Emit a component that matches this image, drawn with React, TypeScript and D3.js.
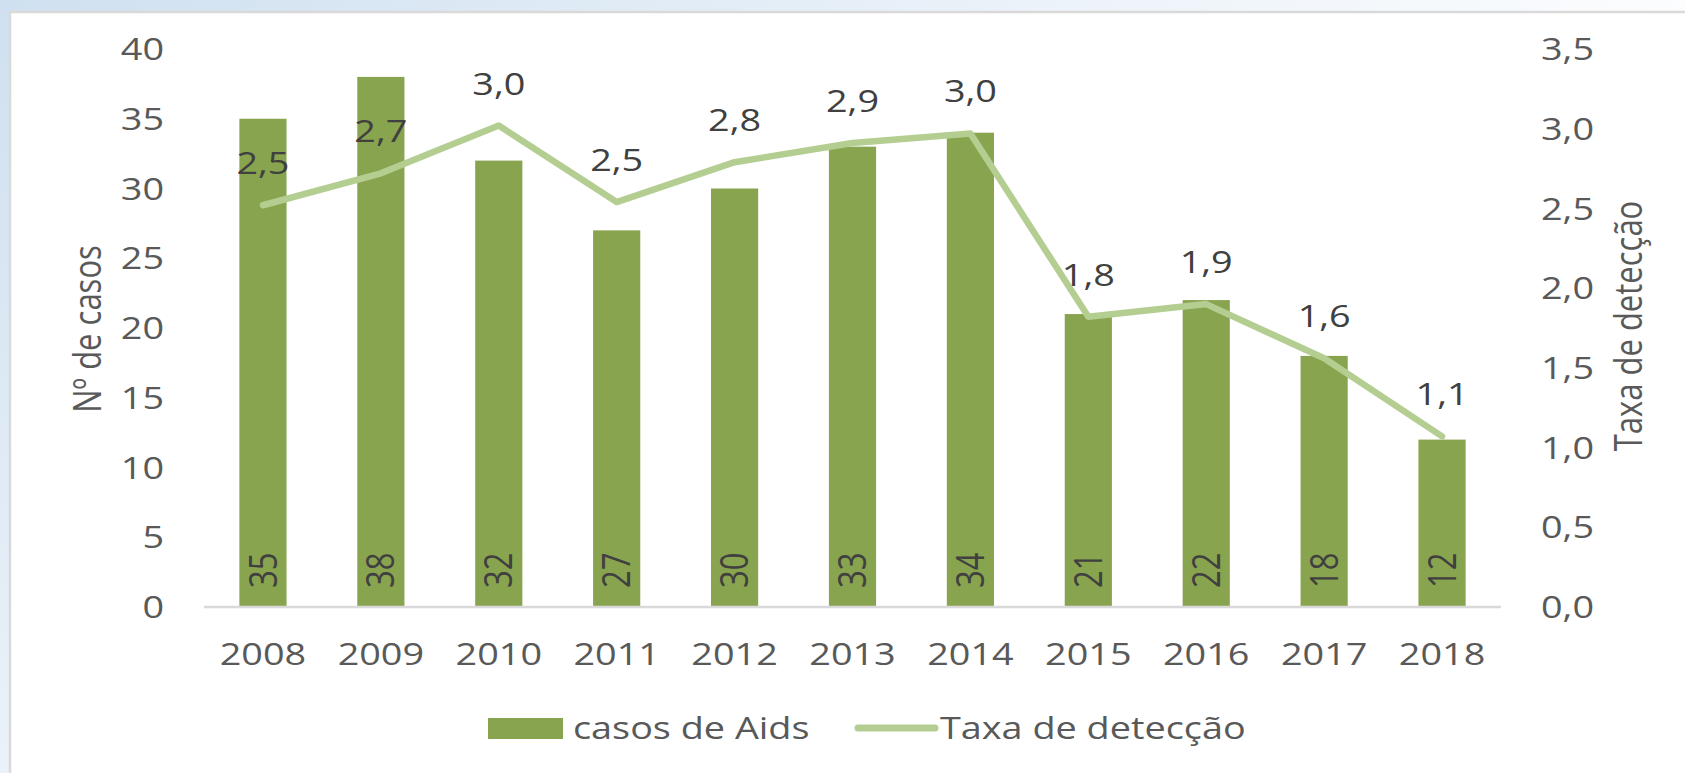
import React from "react";
import * as d3 from "d3";

const years = ["2008", "2009", "2010", "2011", "2012", "2013", "2014", "2015", "2016", "2017", "2018"];
const casos = [35, 38, 32, 27, 30, 33, 34, 21, 22, 18, 12];
const taxa = [2.52, 2.72, 3.02, 2.54, 2.79, 2.91, 2.97, 1.82, 1.9, 1.56, 1.07];
const leftTicks = [0, 5, 10, 15, 20, 25, 30, 35, 40];
const rightTicks = [0, 0.5, 1, 1.5, 2, 2.5, 3, 3.5];
const seriesNames = ["casos de Aids", "Taxa de detecção"];
const axisTitles = ["Nº de casos", "Taxa de detecção"];

const W = 1685;
const H = 773;
const M = { left: 204, right: 1501, top: 49, bottom: 607 };
const BAR = "#89a44e";
const LINE = "#b4ce92";
const AXIS_TXT = "#595959";
const DATA_TXT = "#404040";
const FONT = "'Open Sans', sans-serif";
const FS = 31;
const SX = 1.22;

const fmt = (v: number) => v.toFixed(1).replace(".", ",");

export default function App() {
  const x = d3.scaleBand<string>().domain(years).range([M.left, M.right]).paddingInner(0.6).paddingOuter(0.3);
  const yL = d3.scaleLinear().domain([0, 40]).range([M.bottom, M.top]);
  const yR = d3.scaleLinear().domain([0, 3.5]).range([M.bottom, M.top]);
  const cx = (y: string) => (x(y) as number) + x.bandwidth() / 2;
  const line = d3
    .line<number>()
    .x((_, i) => cx(years[i]))
    .y((v) => yR(v));

  const txt = (
    key: string | number,
    tx: number,
    ty: number,
    s: string,
    anchor: string,
    fill: string,
    rot = 0,
    dy = "0"
  ) => (
    <text
      key={key}
      transform={`translate(${tx},${ty}) scale(${SX},1)${rot ? ` rotate(${rot})` : ""}`}
      textAnchor={anchor}
      dy={dy}
      fill={fill}
      fontFamily={FONT}
      fontSize={FS}
    >
      {s}
    </text>
  );

  return (
    <svg width={W} height={H} style={{ position: "absolute", left: 0, top: 0, display: "block" }}>
      <defs>
        <linearGradient id="bg" x1="0" y1="0" x2="1" y2="0.6">
          <stop offset="0" stopColor="#cfe0f0" />
          <stop offset="0.5" stopColor="#eef4fa" />
          <stop offset="0.8" stopColor="#ffffff" />
        </linearGradient>
      </defs>
      <rect x={0} y={0} width={W} height={H} fill="url(#bg)" />
      <rect x={10} y={12} width={W} height={H} fill="#ffffff" stroke="#d9d9d9" strokeWidth={2.5} />

      {/* left axis ticks */}
      {leftTicks.map((t) => txt(`l${t}`, 164, yL(t), String(t), "end", AXIS_TXT, 0, "0.36em"))}
      {/* right axis ticks */}
      {rightTicks.map((t) => txt(`r${t}`, 1541, yR(t), fmt(t), "start", AXIS_TXT, 0, "0.36em"))}

      {/* axis titles */}
      {txt("tl", 87, 329, axisTitles[0], "middle", AXIS_TXT, -90, "0.36em")}
      {txt("tr", 1628, 326, axisTitles[1], "middle", AXIS_TXT, -90, "0.36em")}

      {/* bars */}
      {years.map((yr, i) => (
        <rect
          key={`b${yr}`}
          x={x(yr)}
          y={yL(casos[i])}
          width={x.bandwidth()}
          height={yL(0) - yL(casos[i])}
          fill={BAR}
        />
      ))}

      {/* x axis line */}
      <line x1={M.left} x2={M.right} y1={M.bottom} y2={M.bottom} stroke="#d9d9d9" strokeWidth={2.5} />

      {/* year labels */}
      {years.map((yr) => txt(`y${yr}`, cx(yr), 665, yr, "middle", AXIS_TXT))}

      {/* bar value labels */}
      {years.map((yr, i) => txt(`v${yr}`, cx(yr), M.bottom - 19, String(casos[i]), "start", DATA_TXT, -90, "0.36em"))}

      {/* line */}
      <path d={line(taxa) || ""} fill="none" stroke={LINE} strokeWidth={6.5} strokeLinejoin="round" strokeLinecap="round" />

      {/* line labels */}
      {years.map((yr, i) => txt(`t${yr}`, cx(yr), yR(taxa[i]) - 31, fmt(taxa[i]), "middle", DATA_TXT))}

      {/* legend */}
      <rect x={488} y={718} width={75} height={21} fill={BAR} />
      {txt("lg1", 573, 739, seriesNames[0], "start", AXIS_TXT)}
      <line x1={858} x2={935} y1={728} y2={728} stroke={LINE} strokeWidth={7} strokeLinecap="round" />
      {txt("lg2", 940, 739, seriesNames[1], "start", AXIS_TXT)}
    </svg>
  );
}
